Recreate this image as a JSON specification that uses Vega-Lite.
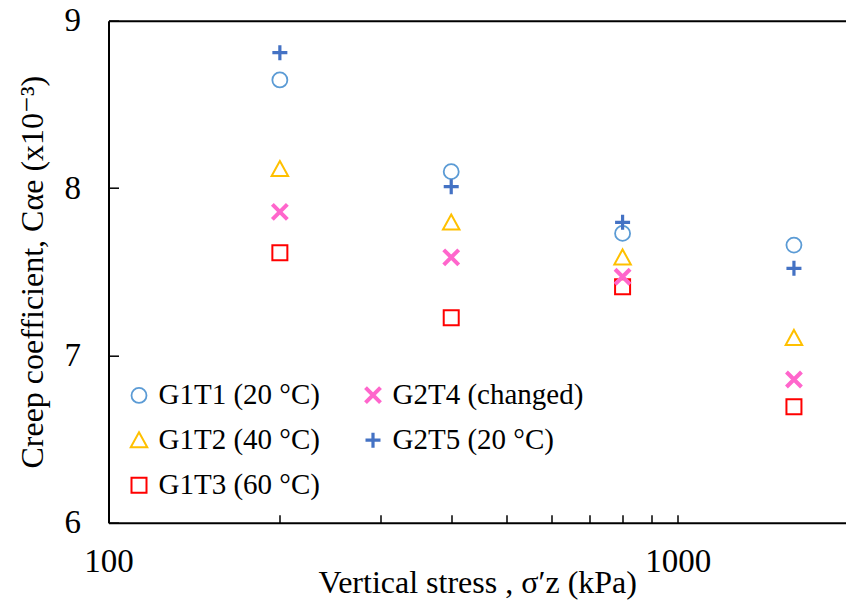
{
  "$schema": "https://vega.github.io/schema/vega-lite/v6.json",
  "autosize": {"type": "none"},
  "padding": {"left": 108.5, "top": 20.7, "right": 0, "bottom": 85.3},
  "width": 737.5,
  "height": 502,
  "background": "white",
  "config": {
    "font": "Liberation Serif, Times New Roman, DejaVu Serif, serif",
    "view": {"stroke": null},
    "axis": {"grid": false, "domainColor": "black", "domainWidth": 2, "tickColor": "black", "tickWidth": 1.5, "labelColor": "black", "titleColor": "black", "titleFontWeight": "normal", "labelFont": "Liberation Serif, Times New Roman, DejaVu Serif, serif", "titleFont": "Liberation Serif, Times New Roman, DejaVu Serif, serif"},
    "legend": {"labelFont": "Liberation Serif, Times New Roman, DejaVu Serif, serif"}
  },
  "data": {
    "values": [
      {"series": "G1T1 (20 °C)", "stress": 200, "value": 8.646},
      {"series": "G1T1 (20 °C)", "stress": 400, "value": 8.098},
      {"series": "G1T1 (20 °C)", "stress": 800, "value": 7.729},
      {"series": "G1T1 (20 °C)", "stress": 1600, "value": 7.659},
      {"series": "G1T2 (40 °C)", "stress": 200, "value": 8.114},
      {"series": "G1T2 (40 °C)", "stress": 400, "value": 7.795},
      {"series": "G1T2 (40 °C)", "stress": 800, "value": 7.586},
      {"series": "G1T2 (40 °C)", "stress": 1600, "value": 7.105},
      {"series": "G1T3 (60 °C)", "stress": 200, "value": 7.613},
      {"series": "G1T3 (60 °C)", "stress": 400, "value": 7.225},
      {"series": "G1T3 (60 °C)", "stress": 800, "value": 7.41},
      {"series": "G1T3 (60 °C)", "stress": 1600, "value": 6.693},
      {"series": "G2T4 (changed)", "stress": 200, "value": 7.858},
      {"series": "G2T4 (changed)", "stress": 400, "value": 7.586},
      {"series": "G2T4 (changed)", "stress": 800, "value": 7.47},
      {"series": "G2T4 (changed)", "stress": 1600, "value": 6.856},
      {"series": "G2T5 (20 °C)", "stress": 200, "value": 8.809},
      {"series": "G2T5 (20 °C)", "stress": 400, "value": 8.008},
      {"series": "G2T5 (20 °C)", "stress": 800, "value": 7.795},
      {"series": "G2T5 (20 °C)", "stress": 1600, "value": 7.52}
    ]
  },
  "layer": [
    {
      "mark": {"type": "point", "filled": false, "opacity": 1},
      "encoding": {
        "x": {
          "field": "stress", "type": "quantitative",
          "scale": {"type": "log", "domain": [100, 1975], "nice": false},
          "axis": {
            "values": [100, 200, 300, 400, 500, 600, 700, 800, 900, 1000],
            "labelExpr": "datum.value === 100 || datum.value === 1000 ? format(datum.value, 'd') : ''",
            "tickSize": -8, "labelFontSize": 33, "labelPadding": 31, "labelFlush": false, "labelOverlap": false,
            "title": "Vertical stress , σ′z (kPa)", "titleFontSize": 32, "titlePadding": -11
          }
        },
        "y": {
          "field": "value", "type": "quantitative",
          "scale": {"domain": [6, 9], "nice": false, "zero": false},
          "axis": {
            "values": [6, 7, 8, 9], "format": "d",
            "tickSize": -10, "labelFontSize": 33, "labelPadding": 38, "labelFlush": false,
            "title": "Creep coefficient, Cαe (x10⁻³)", "titleFontSize": 32, "titlePadding": 15
          }
        },
        "color": {
          "field": "series", "type": "nominal",
          "scale": {
            "domain": ["G1T1 (20 °C)", "G1T2 (40 °C)", "G1T3 (60 °C)", "G2T4 (changed)", "G2T5 (20 °C)"],
            "range": ["#5B9BD5", "#FFC000", "#FF0000", "#FF66CC", "#4472C4"]
          },
          "legend": {
            "orient": "none", "legendX": 16, "legendY": 360, "columns": 2, "title": null,
            "labelFontSize": 29, "labelColor": "black", "labelOffset": 5, "symbolSize": 225,
            "columnPadding": 37, "rowPadding": 15, "gridAlign": "each", "padding": 0, "labelLimit": 0
          }
        },
        "shape": {
          "field": "series", "type": "nominal",
          "scale": {
            "domain": ["G1T1 (20 °C)", "G1T2 (40 °C)", "G1T3 (60 °C)", "G2T4 (changed)", "G2T5 (20 °C)"],
            "range": ["circle", "M0,-1.05L1.1,0.95L-1.1,0.95Z", "square", "M-1,-1L1,1M-1,1L1,-1", "M-1,0L1,0M0,-1L0,1"]
          }
        },
        "strokeWidth": {
          "field": "series", "type": "nominal",
          "scale": {
            "type": "ordinal",
            "domain": ["G1T1 (20 °C)", "G1T2 (40 °C)", "G1T3 (60 °C)", "G2T4 (changed)", "G2T5 (20 °C)"],
            "range": [1.8, 2, 2, 4, 3.2]
          }
        },
        "size": {"value": 225}
      }
    },
    {
      "mark": {"type": "point", "opacity": 0},
      "encoding": {
        "x": {
          "field": "stress", "type": "quantitative",
          "axis": {"orient": "top", "labels": false, "ticks": false, "domain": true, "title": null}
        },
        "y": {"field": "value", "type": "quantitative"}
      }
    }
  ],
  "resolve": {"axis": {"x": "independent"}}
}
